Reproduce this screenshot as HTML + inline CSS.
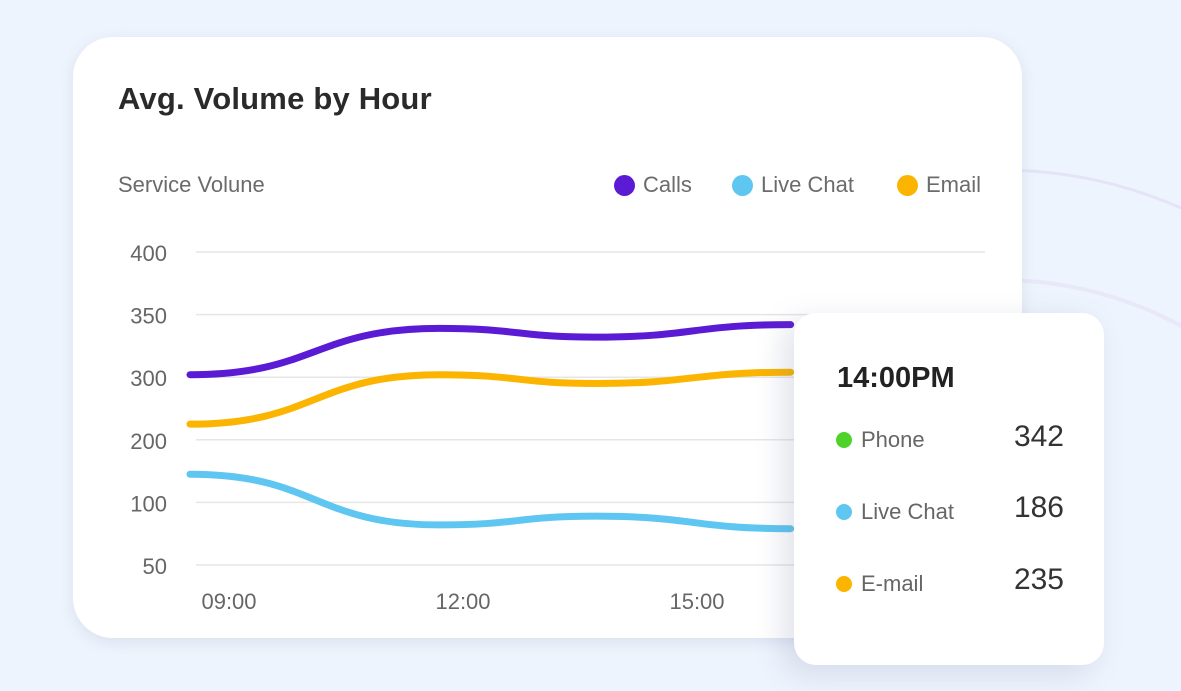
<!DOCTYPE html>
<html><head><meta charset="utf-8">
<style>
html,body{margin:0;padding:0;width:1181px;height:691px;overflow:hidden;}
body{background:#eef4fd;position:relative;font-family:"Liberation Sans",sans-serif;}
#bg{position:absolute;left:0;top:0;}
#card{position:absolute;left:73px;top:37px;width:949px;height:601px;background:#fff;border-radius:40px;box-shadow:0 4px 14px rgba(120,140,180,0.18);}
#title{position:absolute;left:118px;top:81px;font-size:31px;font-weight:bold;color:#2a2a2a;letter-spacing:0.2px;}
#sub{position:absolute;left:118px;top:172px;font-size:22px;color:#6b6b6b;}
.leg{position:absolute;top:172px;font-size:22px;color:#6b6b6b;}
.leg i{position:absolute;left:-29px;top:3px;width:21px;height:21px;border-radius:50%;}
#chart{position:absolute;left:0;top:0;}
#tip{position:absolute;left:794px;top:313px;width:310px;height:352px;background:#fff;border-radius:22px;box-shadow:-10px 8px 30px rgba(100,110,150,0.2);}
#tip .t{position:absolute;left:43px;top:49px;font-size:29px;font-weight:bold;color:#222;}
.row{position:absolute;left:42px;font-size:22px;color:#666;}
.row i{display:inline-block;width:16px;height:16px;border-radius:50%;margin-right:9px;vertical-align:-1px;}
.val{position:absolute;right:40px;font-size:30px;color:#333;}
</style></head><body>
<svg id="bg" width="1181" height="691">
<defs><clipPath id="cp"><rect x="1022" y="0" width="200" height="691"/></clipPath></defs>
<g clip-path="url(#cp)">
<circle cx="1000" cy="620" r="450" fill="none" stroke="#e4e4f6" stroke-width="3"/>
<circle cx="1000" cy="660" r="380" fill="none" stroke="#e8e8f8" stroke-width="4"/>
</g>
</svg>
<div id="card"></div>
<div id="title">Avg. Volume by Hour</div>
<div id="sub">Service Volune</div>
<div class="leg" style="left:643px"><i style="background:#5b1bd4"></i>Calls</div>
<div class="leg" style="left:761px"><i style="background:#5ec6f0"></i>Live Chat</div>
<div class="leg" style="left:926px"><i style="background:#fbb400"></i>Email</div>
<svg id="chart" width="1181" height="691"></svg>
<div id="tip">
<div class="t">14:00PM</div>
<div class="row" style="top:114px"><i style="background:#4fd22a"></i>Phone</div>
<div class="val" style="top:107px">342</div>
<div class="row" style="top:186px"><i style="background:#5ec6f0"></i>Live Chat</div>
<div class="val" style="top:178px">186</div>
<div class="row" style="top:258px"><i style="background:#fbb400"></i>E-mail</div>
<div class="val" style="top:250px">235</div>
</div>
<script>
const yTicks=[400,350,300,200,100,50];
const xTickLabels=["09:00","12:00","15:00"];
const xTickHours=[9,12,15];
const hours=[8.5,11.7,13.7,16.2];
const calls=[302,339,332,342];
const email=[225,302,290,304];
const liveChat=[145,82,89,79];
const NS="http://www.w3.org/2000/svg";
const svg=document.getElementById('chart');
const yTop=252,yStep=62.6;
function yScale(v){
  for(let i=0;i<yTicks.length-1;i++){
    const a=yTicks[i],b=yTicks[i+1];
    if(v<=a&&v>=b){return yTop+yStep*(i+(a-v)/(a-b));}
  }
  if(v>yTicks[0])return yTop-(v-yTicks[0])/(yTicks[0]-yTicks[1])*yStep;
  return yTop+yStep*(yTicks.length-1)+(yTicks[yTicks.length-1]-v);
}
function xScale(h){return 229+78*(h-9);}
function mk(t,a){const e=document.createElementNS(NS,t);for(const k in a)e.setAttribute(k,a[k]);svg.appendChild(e);return e;}
yTicks.forEach((v,i)=>{
  const y=yTop+yStep*i;
  const g=mk('line',{x1:196,x2:985,y1:y,y2:y,stroke:'#e6e6e6','stroke-width':1.5});
  
  
  const t=mk('text',{x:167,y:y+9,'text-anchor':'end','font-size':22,fill:'#666','font-family':'Liberation Sans, sans-serif'});
  t.textContent=v;
  
  
});
xTickLabels.forEach((l,i)=>{
  const t=mk('text',{x:xScale(xTickHours[i]),y:609,'text-anchor':'middle','font-size':22,fill:'#666','font-family':'Liberation Sans, sans-serif'});
  t.textContent=l;
  
  
});
function path(vals){
  const p=hours.map((h,i)=>[xScale(h),yScale(vals[i])]);
  let d=`M${p[0][0]},${p[0][1]}`;
  for(let i=0;i<p.length-1;i++){
    const dx=(p[i+1][0]-p[i][0])/2;
    d+=` C${p[i][0]+dx},${p[i][1]} ${p[i+1][0]-dx},${p[i+1][1]} ${p[i+1][0]},${p[i+1][1]}`;
  }
  return d;
}
[[calls,'#5b1bd4','line-calls'],[email,'#fbb400','line-email'],[liveChat,'#5ec6f0','line-live-chat']].forEach(s=>{
  const e=mk('path',{d:path(s[0]),fill:'none',stroke:s[1],'stroke-width':7,'stroke-linecap':'round'});
  
  
});
</script>
</body></html>
